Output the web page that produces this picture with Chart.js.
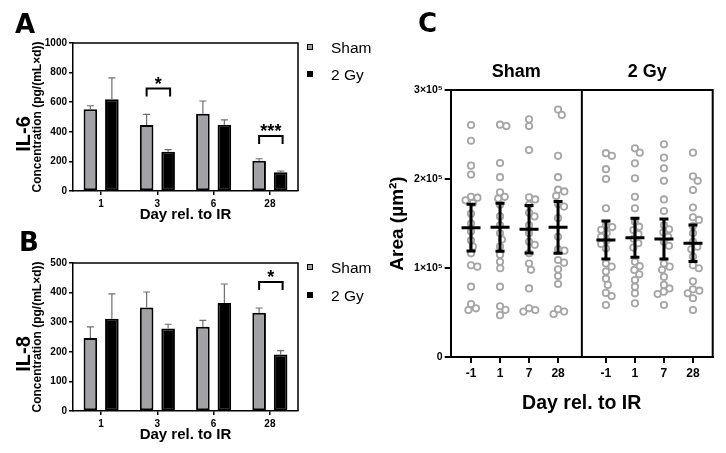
<!DOCTYPE html>
<html>
<head>
<meta charset="utf-8">
<script src="https://cdn.jsdelivr.net/npm/chart.js@4.4.1/dist/chart.umd.min.js"></script>
<style>
body { margin: 0; background: #fff; }
#fig { position: relative; width: 726px; height: 453px; overflow: hidden; font-family: 'Liberation Sans', Arial, sans-serif; }
#fig canvas { position: absolute; }
.letter { position: absolute; font: bold 26px/26px 'DejaVu Sans', sans-serif; }
.leg { position: absolute; font-size: 15.5px; line-height: 16px; }
.box { position: absolute; width: 4px; height: 4px; border: 1.5px solid #000; }
</style>
</head>
<body>
<div id="fig">
  <canvas id="il6" width="302" height="225" style="left:0;top:0"></canvas>
  <canvas id="il8" width="302" height="225" style="left:0;top:220px"></canvas>
  <canvas id="area" width="356" height="425" style="left:370px;top:0"></canvas>

  <div class="letter" style="left:15px;top:11px">A</div>
  <div class="letter" style="left:19px;top:229px">B</div>
  <div class="letter" style="left:418px;top:10px">C</div>

  <div class="box" style="left:307px;top:44px;background:#a2a2a6"></div>
  <div class="leg" style="left:331px;top:40px">Sham</div>
  <div class="box" style="left:307px;top:71px;background:#000"></div>
  <div class="leg" style="left:331px;top:67px">2 Gy</div>

  <div class="box" style="left:307px;top:264px;background:#a2a2a6"></div>
  <div class="leg" style="left:331px;top:260px">Sham</div>
  <div class="box" style="left:307px;top:292px;background:#000"></div>
  <div class="leg" style="left:331px;top:288px">2 Gy</div>
</div>

<script>
// ---- data ----
const days = ['1', '3', '6', '28'];

const il6Sham = [552, 446, 522, 205];
const il6ShamErr = [24, 72, 86, 13];
const il6Gy = [620, 266, 448, 126];
const il6GyErr = [145, 13, 32, 9];
const il6Sig = [{ day: '3', at: 692, text: '*' }, { day: '28', at: 372, text: '***' }];

const il8Sham = [247, 350, 285, 332];
const il8ShamErr = [37, 52, 21, 16];
const il8Gy = [312, 279, 365, 191];
const il8GyErr = [84, 14, 64, 13];
const il8Sig = [{ day: '28', at: 436, text: '*' }];

// panel C, area in 10^3 µm²
const areaGroups = ['Sham', '2 Gy'];
const areaDays = ['-1', '1', '7', '28'];
const areaTicks = ['0', '1×10⁵', '2×10⁵', '3×10⁵'];
const shamArea = [
  [260.7, 243, 215, 205, 180, 179, 176, 173, 161, 150, 141, 131, 124, 116.5, 103, 101.5, 79, 59.5, 54.7, 52.8],
  [261, 259.5, 218, 202, 185, 180, 178, 171, 158, 148, 139, 132, 124, 115, 107, 99.7, 79, 57, 53, 47],
  [267, 259.5, 232.6, 179.4, 177, 171, 162, 158, 148, 139, 129.5, 126, 116.5, 105, 98, 77, 54.7, 52.8, 51],
  [278, 272, 226, 202, 188, 186, 181, 172, 169, 156, 135, 121, 119.5, 109, 106, 98.5, 91, 82, 53.6, 51, 48.3]
];
const gyArea = [
  [229, 226, 211, 200, 167, 148, 146, 143, 139, 135, 131, 127, 122, 105, 101.5, 96, 88, 81, 72, 68.5, 58.4],
  [234.5, 229.6, 217.6, 200.8, 180, 167, 152, 146.4, 142.7, 138, 133, 127.8, 123, 107, 102, 97.8, 93, 86.5, 79, 71.6, 60.3],
  [239, 224, 212, 198, 177, 164, 148, 143.5, 140, 135, 129.5, 125, 105, 101.5, 98, 90, 81, 77, 73.4, 70.8, 58.4],
  [229.6, 203, 198, 187.6, 168, 157, 154, 147, 139, 129.5, 124, 121, 112.7, 103, 99.7, 85, 76, 74.5, 71.6, 66, 52.8]
];
const shamMean = [145.3, 145.7, 143.5, 145.7];
const shamSd = [26.2, 27, 26.6, 29];
const gyMean = [131.5, 134, 132.6, 127.8];
const gySd = [21.4, 21.9, 22.4, 20.6];

Chart.defaults.font.family = "'Liberation Sans', Arial, sans-serif";
Chart.defaults.color = '#000';

// ---- plugins ----
const frame = {
  id: 'frame',
  afterDraw(chart, args, opts) {
    const { ctx, chartArea: { left, top, right, bottom } } = chart;
    ctx.save();
    ctx.strokeStyle = '#000';
    ctx.lineWidth = opts.width || 1.5;
    ctx.beginPath();
    ctx.moveTo(left, top);
    ctx.lineTo(right, top);
    ctx.lineTo(right, bottom);
    if (opts.divider != null) {
      const dx = chart.scales.x.getPixelForValue(opts.divider);
      ctx.moveTo(dx, top);
      ctx.lineTo(dx, bottom);
    }
    ctx.stroke();
    ctx.restore();
  }
};

const whiskers = {
  id: 'whiskers',
  afterDatasetsDraw(chart, args, opts) {
    const { ctx } = chart;
    const y = chart.scales.y;
    ctx.save();
    ctx.strokeStyle = '#6e6e6e';
    ctx.lineWidth = 1.2;
    chart.data.datasets.forEach((ds, i) => {
      chart.getDatasetMeta(i).data.forEach((bar, j) => {
        const top = y.getPixelForValue(ds.data[j] + opts.err[i][j]);
        ctx.beginPath();
        ctx.moveTo(bar.x, bar.y);
        ctx.lineTo(bar.x, top);
        ctx.moveTo(bar.x - 3.5, top);
        ctx.lineTo(bar.x + 3.5, top);
        ctx.stroke();
      });
    });
    ctx.restore();
  }
};

const sig = {
  id: 'sig',
  afterDatasetsDraw(chart, args, opts) {
    const { ctx } = chart;
    const y = chart.scales.y;
    opts.marks.forEach(m => {
      const idx = chart.data.labels.indexOf(m.day);
      const a = chart.getDatasetMeta(0).data[idx];
      const b = chart.getDatasetMeta(1).data[idx];
      const py = y.getPixelForValue(m.at);
      ctx.save();
      ctx.strokeStyle = '#000';
      ctx.lineWidth = 2;
      ctx.beginPath();
      ctx.moveTo(a.x, py + 8);
      ctx.lineTo(a.x, py);
      ctx.lineTo(b.x + 2, py);
      ctx.lineTo(b.x + 2, py + 8);
      ctx.stroke();
      ctx.fillStyle = '#000';
      ctx.font = "bold 18px 'Liberation Sans', Arial";
      ctx.textAlign = 'center';
      ctx.fillText(m.text, (a.x + b.x + 2) / 2, py + 1);
      ctx.restore();
    });
  }
};

const summary = {
  id: 'summary',
  afterDatasetsDraw(chart, args, opts) {
    const { ctx, scales: { x, y } } = chart;
    ctx.save();
    ctx.strokeStyle = '#000';
    ctx.lineWidth = 3;
    opts.groups.forEach((g, gi) => {
      g.mean.forEach((m, i) => {
        const px = x.getPixelForValue(colPos(gi, i));
        const pm = y.getPixelForValue(m * 1e3);
        const pt = y.getPixelForValue((m + g.sd[i]) * 1e3);
        const pb = y.getPixelForValue((m - g.sd[i]) * 1e3);
        ctx.beginPath();
        ctx.moveTo(px, pt); ctx.lineTo(px, pb);
        ctx.moveTo(px - 4.5, pt); ctx.lineTo(px + 4.5, pt);
        ctx.moveTo(px - 4.5, pb); ctx.lineTo(px + 4.5, pb);
        ctx.moveTo(px - 9.5, pm); ctx.lineTo(px + 9.5, pm);
        ctx.stroke();
      });
    });
    ctx.restore();
  }
};

// ---- panels A and B ----
function barChart(id, title, sham, shamErr, gy, gyErr, max, step, marks) {
  return new Chart(document.getElementById(id), {
    type: 'bar',
    data: {
      labels: days,
      datasets: [
        { label: 'Sham', data: sham, backgroundColor: '#a2a2a6', borderColor: '#000', borderWidth: 2, borderSkipped: false },
        { label: '2 Gy', data: gy, backgroundColor: '#000', borderColor: '#000', borderWidth: 2, borderSkipped: false }
      ]
    },
    options: {
      responsive: false,
      animation: false,
      layout: { padding: { left: 14, top: 43, right: 4, bottom: 0 } },
      datasets: { bar: { categoryPercentage: 0.764, barPercentage: 0.633 } },
      scales: {
        x: {
          grid: { offset: false, drawOnChartArea: false, tickLength: 4, color: '#000', lineWidth: 1.5 },
          border: { color: '#000', width: 1.5 },
          ticks: { font: { size: 10, weight: 'bold' }, padding: 3 },
          title: { display: true, text: 'Day rel. to IR', font: { size: 15, weight: 'bold' }, padding: { top: 0, bottom: 1 } },
          afterFit: s => { s.height = 34; }
        },
        y: {
          min: 0, max: max,
          ticks: { stepSize: step, callback: v => String(v), font: { size: 10, weight: 'bold' }, padding: 2 },
          grid: { drawOnChartArea: false, tickLength: 4, color: '#000', lineWidth: 1.5 },
          border: { color: '#000', width: 1.5 },
          title: { display: true, text: 'Concentration (pg/(mL×d))', font: { size: 12, weight: 'bold', lineHeight: 1 }, padding: 0 },
          afterFit: s => { s.width = 41; }
        }
      },
      plugins: {
        legend: { display: false },
        tooltip: { enabled: false },
        title: { display: true, text: title, position: 'left', font: { size: 20, weight: 'bold', lineHeight: 1 }, padding: { top: 0, bottom: -2 } },
        whiskers: { err: [shamErr, gyErr] },
        sig: { marks: marks },
        frame: { width: 1.5 }
      }
    },
    plugins: [frame, whiskers, sig]
  });
}

barChart('il6', 'IL-6', il6Sham, il6ShamErr, il6Gy, il6GyErr, 1000, 200, il6Sig);
barChart('il8', 'IL-8', il8Sham, il8ShamErr, il8Gy, il8GyErr, 500, 100, il8Sig);

// ---- panel C ----
const xMax = 9.03, divider = 4.52;
function colPos(g, i) { return 0.7 + i + g * 4.65; }
const groupCenters = [divider / 2, (divider + xMax) / 2];

function points(groupVals, g) {
  const out = [];
  groupVals.forEach((vals, i) => vals.forEach(v => out.push({ x: colPos(g, i), y: v * 1e3, base: colPos(g, i) })));
  return out;
}

const dotStyle = { pointRadius: 3.2, pointBorderWidth: 1.8, borderColor: '#a6a6a6', backgroundColor: 'rgba(255,255,255,0)' };

const areaChart = new Chart(document.getElementById('area'), {
  type: 'scatter',
  data: {
    datasets: [
      Object.assign({ label: areaGroups[0], data: points(shamArea, 0) }, dotStyle),
      Object.assign({ label: areaGroups[1], data: points(gyArea, 1) }, dotStyle)
    ]
  },
  options: {
    responsive: false,
    animation: false,
    layout: { padding: { left: 16, right: 13.3, top: 0, bottom: 0 } },
    scales: {
      x: {
        type: 'linear', min: 0, max: xMax,
        afterBuildTicks: s => { s.ticks = [0, 1].flatMap(g => areaDays.map((d, i) => ({ value: colPos(g, i) }))); },
        ticks: { callback: (v, i) => areaDays[i % 4], font: { size: 12, weight: 'bold' }, padding: 3, autoSkip: false, maxRotation: 0 },
        grid: { drawOnChartArea: false, tickLength: 6, color: '#000', lineWidth: 2 },
        border: { color: '#000', width: 2 },
        title: { display: true, text: 'Day rel. to IR', font: { size: 19.5, weight: 'bold' }, padding: { top: 0, bottom: 10 } },
        afterFit: s => { s.height = 68; }
      },
      x2: {
        type: 'linear', position: 'top', min: 0, max: xMax,
        afterBuildTicks: s => { s.ticks = groupCenters.map(v => ({ value: v })); },
        ticks: { callback: (v, i) => areaGroups[i], font: { size: 18, weight: 'bold' }, padding: 7, autoSkip: false, maxRotation: 0 },
        grid: { display: false, drawTicks: false },
        border: { display: false },
        afterFit: s => { s.height = 90; }
      },
      y: {
        min: 0, max: 3e5,
        ticks: { stepSize: 1e5, callback: (v, i) => areaTicks[i], font: { size: 10.5, weight: 'bold' }, padding: 2 },
        grid: { drawOnChartArea: false, tickLength: 6, color: '#000', lineWidth: 2 },
        border: { color: '#000', width: 2 },
        title: { display: true, text: 'Area (µm²)', font: { size: 19, weight: 'bold' }, padding: 0 },
        afterFit: s => { s.width = 64.7; }
      }
    },
    plugins: {
      legend: { display: false },
      tooltip: { enabled: false },
      summary: { groups: [{ mean: shamMean, sd: shamSd }, { mean: gyMean, sd: gySd }] },
      frame: { width: 2, divider: divider }
    }
  },
  plugins: [frame, summary]
});

// spread the dots sideways so they do not sit on top of each other
function swarm(chart, gap) {
  const xs = chart.scales.x, ys = chart.scales.y;
  chart.data.datasets.forEach(ds => {
    const cols = {};
    ds.data.forEach(p => { (cols[p.base] = cols[p.base] || []).push(p); });
    Object.values(cols).forEach(pts => {
      const cx = xs.getPixelForValue(pts[0].base);
      const placed = [];
      pts.slice().sort((a, b) => b.y - a.y).forEach(p => {
        const py = ys.getPixelForValue(p.y);
        const cands = [0];
        placed.forEach(q => {
          const dy = py - q.py;
          if (Math.abs(dy) < gap) {
            const dx = Math.sqrt(gap * gap - dy * dy);
            cands.push(q.dx + dx, q.dx - dx);
          }
        });
        cands.sort((a, b) => Math.abs(a) - Math.abs(b));
        const dx = cands.find(c => placed.every(q => (c - q.dx) ** 2 + (py - q.py) ** 2 >= gap * gap - 0.01));
        placed.push({ dx: dx, py: py });
        p.x = xs.getValueForPixel(cx + dx);
      });
    });
  });
  chart.update('none');
}
swarm(areaChart, 6.5);
</script>
</body>
</html>
